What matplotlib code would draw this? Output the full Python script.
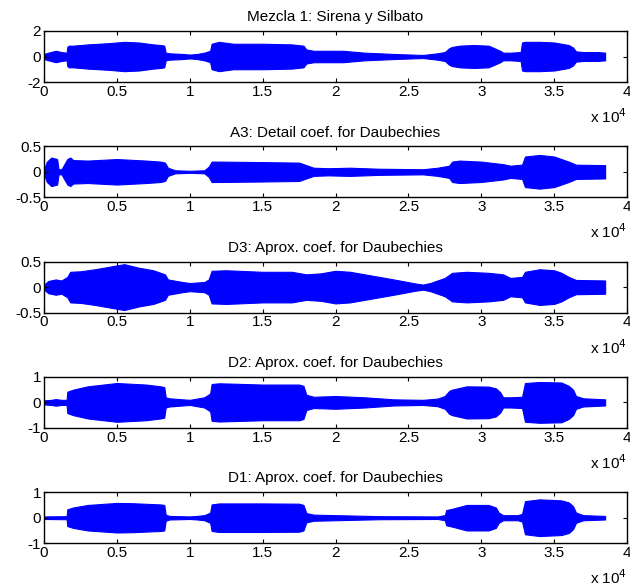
import matplotlib
matplotlib.use("Agg")
import matplotlib.pyplot as plt
import numpy as np

plt.rcParams['font.family'] = ['Liberation Sans', 'DejaVu Sans']

# envelope of each signal (x in samples, amplitude)
titles = ["Mezcla 1: Sirena y Silbato",
          "A3: Detail coef. for Daubechies",
          "D3: Aprox. coef. for Daubechies",
          "D2: Aprox. coef. for Daubechies",
          "D1: Aprox. coef. for Daubechies"]
ylims = [(-2, 2), (-0.5, 0.5), (-0.5, 0.5), (-1, 1), (-1, 1)]
yticks = [[-2, 0, 2], [-0.5, 0, 0.5], [-0.5, 0, 0.5], [-1, 0, 1], [-1, 0, 1]]

x_mix = [0, 300, 800, 1200, 1550, 1600, 1700, 2000, 3000, 4500, 5500, 6500, 7500,
         8000, 8250, 8350, 8600, 9500, 10000, 10500, 11000, 11400, 11500, 12000,
         13000, 15000, 17000, 17800, 18000, 18500, 19500, 20500, 22000, 24000,
         26000, 27000, 27500, 27800, 28000, 28500, 29500, 30500, 31000, 31300,
         31500, 32000, 32700, 32800, 33000, 34000, 35000, 36000, 36300, 36500,
         37000, 38000, 38500]
amp_mix = [0.2, 0.3, 0.45, 0.35, 0.3, 0.75, 0.85, 0.85, 0.95, 1.05, 1.15, 1.1, 0.95,
           0.9, 0.85, 0.3, 0.25, 0.2, 0.15, 0.2, 0.3, 0.45, 1.0, 1.15,
           1.0, 1.0, 0.95, 0.85, 0.55, 0.45, 0.45, 0.45, 0.3, 0.2,
           0.12, 0.25, 0.35, 0.65, 0.75, 0.85, 0.9, 0.85, 0.6, 0.45,
           0.3, 0.3, 0.35, 1.1, 1.15, 1.15, 1.1, 0.9, 0.7, 0.4,
           0.35, 0.35, 0.3]

x_a3 = [0, 200, 500, 900, 1000, 1200, 1600, 1800, 2000, 3000, 5000, 7000, 8000,
        8300, 8500, 9000, 10000, 11000, 11300, 11500, 12000, 15000, 17500, 17800,
        18500, 19500, 21000, 23000, 26000, 27000, 27800, 28000, 28500, 30000,
        31500, 32000, 32800, 33000, 34000, 35000, 35500, 36000, 36500, 38500]
amp_a3 = [0.05, 0.2, 0.28, 0.25, 0.05, 0.05, 0.25, 0.28, 0.23, 0.22, 0.25, 0.22, 0.2,
          0.18, 0.08, 0.03, 0.02, 0.03, 0.1, 0.2, 0.2, 0.19, 0.18, 0.15,
          0.08, 0.07, 0.08, 0.06, 0.05, 0.08, 0.12, 0.2, 0.22, 0.2,
          0.15, 0.12, 0.14, 0.3, 0.33, 0.3, 0.25, 0.2, 0.14, 0.13]

x_d3 = [0, 300, 800, 1200, 1600, 1800, 2500, 3500, 4500, 5500, 6500, 7500, 8000,
        8300, 8500, 9500, 10000, 11000, 11300, 11500, 12500, 15000, 17000, 18000,
        19000, 20000, 21000, 22000, 24000, 25500, 26000, 26500, 27500, 28000,
        29000, 30500, 31500, 32000, 32800, 33000, 34000, 35000, 35500, 36000,
        36500, 38500]
amp_d3 = [0.05, 0.12, 0.15, 0.13, 0.2, 0.3, 0.31, 0.35, 0.4, 0.45, 0.38, 0.33, 0.28,
          0.25, 0.15, 0.1, 0.08, 0.1, 0.15, 0.32, 0.33, 0.3, 0.3, 0.25,
          0.27, 0.32, 0.3, 0.25, 0.15, 0.07, 0.05, 0.08, 0.18, 0.28,
          0.3, 0.28, 0.25, 0.18, 0.2, 0.3, 0.35, 0.33, 0.28, 0.2,
          0.14, 0.13]

x_d2 = [0, 500, 800, 1200, 1550, 1600, 2000, 3000, 5000, 7000, 8000, 8250, 8350,
        8600, 10000, 10500, 11000, 11400, 11500, 12000, 15000, 17500, 17800,
        18000, 18500, 20000, 22000, 24000, 26000, 27000, 27500, 27800, 28000,
        29000, 30500, 31000, 31300, 31500, 32000, 32800, 33000, 34000, 35500,
        36000, 36300, 36500, 37000, 38500]
amp_d2 = [0.08, 0.1, 0.13, 0.1, 0.1, 0.42, 0.5, 0.63, 0.76, 0.7, 0.63, 0.6, 0.2,
          0.16, 0.1, 0.15, 0.2, 0.35, 0.72, 0.75, 0.7, 0.7, 0.65,
          0.3, 0.22, 0.25, 0.2, 0.12, 0.1, 0.15, 0.25, 0.45, 0.5,
          0.63, 0.62, 0.55, 0.4, 0.2, 0.2, 0.22, 0.76, 0.8, 0.78,
          0.65, 0.5, 0.25, 0.16, 0.12]

x_d1 = [0, 1550, 1600, 2000, 3000, 5000, 6000, 8000, 8250, 8350, 8600, 10000,
        10500, 11000, 11400, 11500, 12000, 15000, 17500, 17800, 18000, 18500,
        20000, 23000, 27000, 27500, 27600, 28000, 29000, 30500, 31000, 31200,
        31500, 32500, 32800, 33000, 34000, 35500, 36000, 36300, 36500, 37000,
        38500]
amp_d1 = [0.05, 0.06, 0.33, 0.4, 0.5, 0.58, 0.57, 0.52, 0.5, 0.12, 0.07, 0.05,
          0.07, 0.1, 0.2, 0.52, 0.56, 0.56, 0.55, 0.5, 0.18, 0.12,
          0.1, 0.06, 0.05, 0.1, 0.3, 0.35, 0.5, 0.5, 0.4, 0.2,
          0.1, 0.1, 0.15, 0.65, 0.72, 0.68, 0.6, 0.45, 0.2, 0.1,
          0.07]

signals = [(x_mix, amp_mix), (x_a3, amp_a3), (x_d3, amp_d3), (x_d2, amp_d2), (x_d1, amp_d1)]

fig = plt.figure(figsize=(6.3, 5.86), dpi=100)

for i in range(5):
    top = 31 + 115.3 * i
    ax = fig.add_axes([44 / 630, 1 - (top + 51) / 586, 583 / 630, 51 / 586])
    xs, amps = signals[i]
    xs = np.array(xs)
    amps = np.array(amps)
    ax.fill_between(xs, -amps, amps, color='#0000ff', linewidth=0.8, edgecolor='#0000ff')
    ax.set_xlim(0, 40000)
    ax.set_ylim(*ylims[i])
    ax.set_xticks([0, 5000, 10000, 15000, 20000, 25000, 30000, 35000, 40000])
    ax.set_xticklabels(['0', '0.5', '1', '1.5', '2', '2.5', '3', '3.5', '4'])
    ax.set_yticks(yticks[i])
    ax.set_yticklabels([('%g' % v) for v in yticks[i]])
    ax.tick_params(direction='in', length=3, top=True, right=True, labelsize=11, pad=2)
    for s in ax.spines.values():
        s.set_linewidth(1.0)
    ax.set_title(titles[i], fontsize=11, pad=7)
    ax.text(1.0, -0.68, r'x 10$^{4}$', transform=ax.transAxes, ha='right',
            va='center', fontsize=11)

fig.savefig('out.png', dpi=100)
